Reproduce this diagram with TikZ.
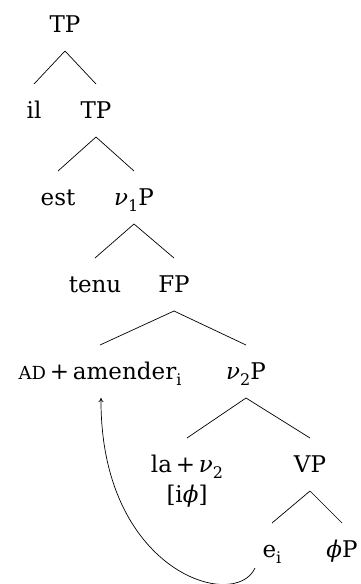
\documentclass[tikz,border=0pt]{standalone}
\usepackage{fontspec}
\setmainfont{DejaVu Serif}
\usetikzlibrary{arrows.meta}
\newcommand{\mysub}[1]{\raisebox{-0.3em}{\fontsize{16}{18}\selectfont #1}}
\begin{document}
\begin{tikzpicture}[x=1pt,y=-1pt,
  lab/.style={anchor=base, inner sep=0pt, font=\fontsize{23}{28}\selectfont},
  br/.style={line width=0.7pt}]
\useasboundingbox (0,0) rectangle (360,584);
\node[lab] (tp1) at (65,32) {TP};
\node[lab] (il) at (34,118) {il};
\node[lab] (tp2) at (96,118) {TP};
\node[lab] (est) at (58,205) {est};
\node[lab] (v1p) at (134,205) {\textit{ν}\mysub{1}P};
\node[lab] (tenu) at (95,292) {tenu};
\node[lab] (fp) at (174,292) {FP};
\node[lab] (ad) at (100,379) {{\fontsize{18}{20}\selectfont AD}\,+\,amender\mysub{i}};
\node[lab] (v2p) at (246,379) {\textit{ν}\mysub{2}P};
\node[lab] (la) at (187,472) {la\,+\,\textit{ν}\mysub{2}};
\node[lab] (iphi) at (187,502) {[i\textit{ϕ}]};
\node[lab] (vp) at (310,472) {VP};
\node[lab] (ei) at (272,557) {e\mysub{i}};
\node[lab] (phip) at (342,557) {\textit{ϕ}P};
\foreach \p/\c in {tp1/il,tp1/tp2,tp2/est,tp2/v1p,v1p/tenu,v1p/fp,fp/ad,fp/v2p,v2p/la,v2p/vp,vp/ei,vp/phip}
  \draw[br] ([yshift=-19pt]\p.base) -- ([yshift=34pt]\c.base);
\draw[br,-{To[length=4pt,width=5pt]}] ([shift={(-17,11)}]ei.base) .. controls (235,612) and (100,572) .. ([shift={(1,19)}]ad.base);
\end{tikzpicture}
\end{document}
